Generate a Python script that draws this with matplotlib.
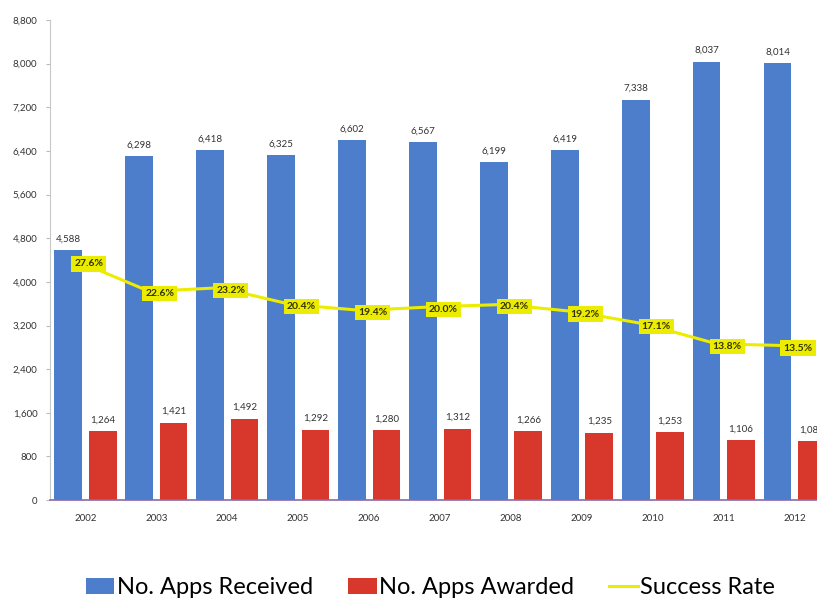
import matplotlib.pyplot as plt
import numpy as np

plt.rcParams['font.family'] = ['Lato', 'DejaVu Sans']

# Data
years = ["2002", "2003", "2004", "2005", "2006", "2007", "2008", "2009", "2010", "2011", "2012"]
received = [4588, 6298, 6418, 6325, 6602, 6567, 6199, 6419, 7338, 8037, 8014]
awarded = [1264, 1421, 1492, 1292, 1280, 1312, 1266, 1235, 1253, 1106, 1083]
success_rate = [27.6, 22.6, 23.2, 20.4, 19.4, 20.0, 20.4, 19.2, 17.1, 13.8, 13.5]

blue = "#4d7ecc"
red = "#d8382b"
yellow = "#ecec00"

fig = plt.figure(figsize=(8.17, 6.04), dpi=100)
ax = fig.add_axes([0.061, 0.172, 0.955, 0.795])

x = np.arange(len(years))
w = 0.39
b1 = ax.bar(x - 0.24, received, w, color=blue, label="No. Apps Received", zorder=2)
b2 = ax.bar(x + 0.245, awarded, w, color=red, label="No. Apps Awarded", zorder=2)

for xi, v in zip(x, received):
    ax.text(xi - 0.24, v + 120, f"{v:,}", ha="center", va="bottom", fontsize=7, color="#333333")
for xi, v in zip(x, awarded):
    ax.text(xi + 0.245, v + 120, f"{v:,}", ha="center", va="bottom", fontsize=7, color="#333333")

ax.set_xlim(-0.5, len(years) - 0.5)
ax.set_ylim(0, 8800)
ax.set_yticks(np.arange(0, 8801, 800))
ax.set_yticklabels([f"{t:,}" for t in range(0, 8801, 800)], fontsize=7, color="#333333")
ax.set_xticks(x)
ax.set_xticklabels(years, fontsize=7, color="#333333")
ax.tick_params(axis="x", length=0, pad=10)
ax.tick_params(axis="y", length=3, color="#bbbbbb", pad=6)
for s in ["top", "right"]:
    ax.spines[s].set_visible(False)
ax.spines["left"].set_color("#c8c8c8")
ax.spines["bottom"].set_color("#8a6aa8")
ax.spines["bottom"].set_linewidth(1.2)

# Success rate on hidden secondary axis
ax2 = ax.twinx()
ax2.set_ylim(-12.4, 68.1)
ax2.axis("off")
ln, = ax2.plot(x - 0.1, success_rate, color=yellow, lw=2.2, label="Success Rate", zorder=3)
for xi, v in zip(x, success_rate):
    ax2.text(xi + 0.05, v - 0.4, f"{v:.1f}%", ha="center", va="center", fontsize=7.5,
             fontweight="bold", color="#333300",
             bbox=dict(boxstyle="square,pad=0.3", fc=yellow, ec="none"), zorder=4)

fig.legend([b1, b2, ln], ["No. Apps Received", "No. Apps Awarded", "Success Rate"],
           loc="center", bbox_to_anchor=(0.527, 0.027), ncol=3, frameon=False,
           fontsize=17, handlelength=1.2, handletextpad=0.1, columnspacing=1.5)

plt.savefig("out.png", dpi=100)
plt.close()
